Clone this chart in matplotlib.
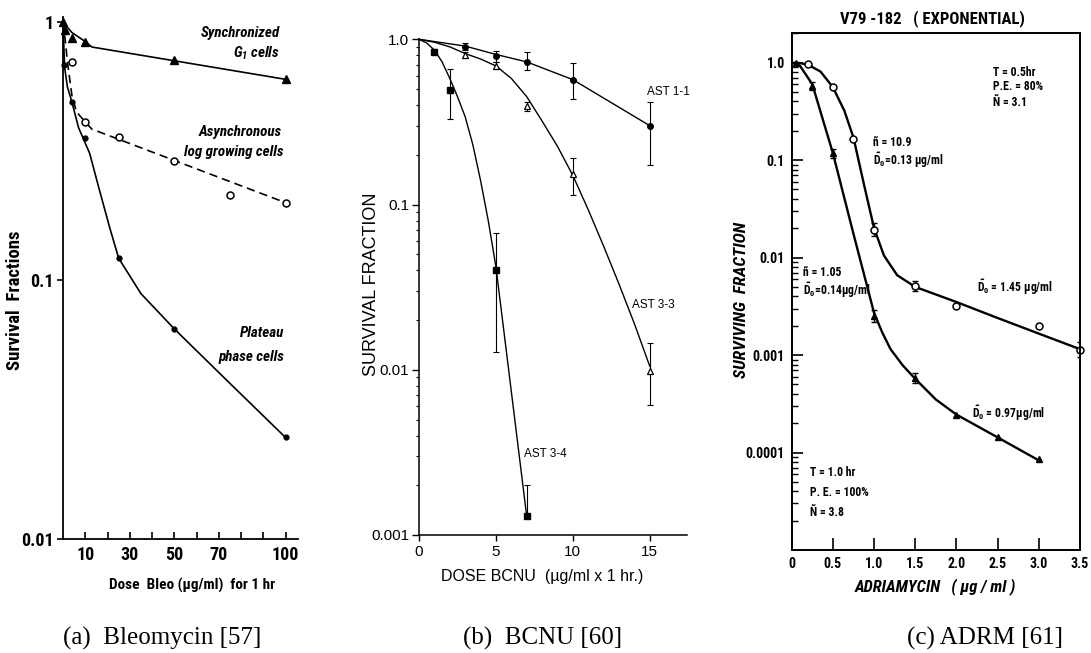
import numpy as np
import matplotlib
matplotlib.use('Agg')
import matplotlib.pyplot as plt
from matplotlib.ticker import FixedLocator, NullFormatter, LogLocator

NARROW = ['Roboto Condensed', 'Barlow Condensed', 'DejaVu Sans']
ARIAL = ['Liberation Sans', 'DejaVu Sans']
SERIF = ['Liberation Serif', 'DejaVu Serif']

W, H = 1091, 653

# ===== (a) Bleomycin =====
bleo_sync_x = [0, 1, 4, 10, 50, 100]
bleo_sync_y = [1.0, 0.93, 0.865, 0.84, 0.71, 0.60]
bleo_sync_fit_x = [0, 4, 10, 13, 100]
bleo_sync_fit_y = [1.0, 0.91, 0.84, 0.80, 0.60]

bleo_async_x = [4, 10, 25, 50, 75, 100]
bleo_async_y = [0.70, 0.41, 0.36, 0.29, 0.215, 0.20]
bleo_async_fit_x = [0, 1, 2, 4, 6, 10, 13, 100]
bleo_async_fit_y = [1.0, 0.85, 0.70, 0.52, 0.45, 0.41, 0.385, 0.20]

bleo_plat_x = [0.5, 4, 10, 25, 50, 100]
bleo_plat_y = [0.68, 0.49, 0.355, 0.122, 0.065, 0.0247]
bleo_plat_fit_x = [0, 0.7, 2, 4, 7, 12, 16, 21, 25, 35, 50, 75, 100]
bleo_plat_fit_y = [1.0, 0.67, 0.56, 0.49, 0.39, 0.31, 0.23, 0.16, 0.122, 0.089, 0.065, 0.040, 0.0247]

bleo_xticks = [10, 20, 30, 40, 50, 60, 70, 80, 90, 100]
bleo_xticklabels = ['10', '', '30', '', '50', '', '70', '', '', '100']

# ===== (b) BCNU =====
ast11_x = [3, 5, 7, 10, 15]
ast11_y = [0.90, 0.79, 0.725, 0.57, 0.30]
ast11_lo = [0.86, 0.73, 0.65, 0.435, 0.173]
ast11_hi = [0.95, 0.85, 0.84, 0.72, 0.42]
ast11_fit_x = [0, 3, 5, 7, 10, 15]
ast11_fit_y = [1.0, 0.91, 0.81, 0.73, 0.57, 0.30]

ast33_x = [3, 5, 7, 10, 15]
ast33_y = [0.80, 0.69, 0.395, 0.153, 0.0098]
ast33_lo = [0.77, 0.66, 0.37, 0.114, 0.0061]
ast33_hi = [0.84, 0.73, 0.42, 0.19, 0.0146]
ast33_fit_x = [0, 1, 2, 3, 4, 5, 6, 7, 8, 9, 10, 11, 12, 13, 14, 15]
ast33_fit_y = [1.0, 0.96, 0.90, 0.82, 0.76, 0.69, 0.58, 0.45, 0.32, 0.225,
               0.150, 0.093, 0.056, 0.033, 0.019, 0.0105]

ast34_x = [1, 2, 5, 7]
ast34_y = [0.84, 0.49, 0.040, 0.0013]
ast34_lo = [0.81, 0.33, 0.0128, 0.0013]
ast34_hi = [0.87, 0.66, 0.067, 0.0020]
ast34_fit_x = [0, 0.5, 1, 1.5, 2, 2.5, 3, 3.5, 4, 4.5, 5, 6, 7]
ast34_fit_y = [1.0, 0.95, 0.86, 0.73, 0.58, 0.45, 0.34, 0.23, 0.14, 0.08,
               0.042, 0.0074, 0.0013]

# ===== (c) Adriamycin =====
adrm_05_x = [0.2, 0.5, 0.75, 1.0, 1.5, 2.0, 3.0, 3.5]
adrm_05_y = [0.97, 0.56, 0.164, 0.0192, 0.0051, 0.0032, 0.0020, 0.00113]
adrm_05_lo = [0.97, 0.56, 0.164, 0.0165, 0.0045, 0.0032, 0.0020, 0.00095]
adrm_05_hi = [0.97, 0.56, 0.164, 0.0225, 0.0057, 0.0032, 0.0020, 0.00135]
adrm_05_fit_x = [0, 0.1, 0.2, 0.35, 0.5, 0.64, 0.75, 0.88, 1.0, 1.12, 1.28,
                 1.5, 2.0, 2.5, 3.0, 3.5]
adrm_05_fit_y = [1.0, 0.99, 0.95, 0.81, 0.56, 0.32, 0.17, 0.055, 0.020, 0.0105,
                 0.0066, 0.0050, 0.0035, 0.0024, 0.00166, 0.00115]

adrm_10_x = [0.05, 0.25, 0.5, 1.0, 1.5, 2.0, 2.5, 3.0]
adrm_10_y = [1.0, 0.58, 0.118, 0.0025, 0.00058, 0.000245, 0.000145, 0.000085]
adrm_10_lo = [1.0, 0.53, 0.105, 0.0022, 0.00052, 0.000245, 0.000145, 0.000085]
adrm_10_hi = [1.0, 0.64, 0.13, 0.0029, 0.00065, 0.000245, 0.000145, 0.000085]
adrm_10_fit_x = [0, 0.1, 0.25, 0.5, 0.75, 1.0, 1.1, 1.2, 1.35, 1.5, 1.75, 2.0, 2.5, 3.0]
adrm_10_fit_y = [1.0, 0.93, 0.60, 0.118, 0.0175, 0.0027, 0.0017, 0.00115, 0.00078,
                 0.00057, 0.00035, 0.000245, 0.000143, 0.000083]

adrm_xticks = [0, 0.5, 1.0, 1.5, 2.0, 2.5, 3.0, 3.5]
adrm_xticklabels = ['0', '0.5', '1.0', '1.5', '2.0', '2.5', '3.0', '3.5']
adrm_yticks = [1e-4, 1e-3, 1e-2, 1e-1, 1.0]
adrm_yticklabels = ['0.0001', '0.001', '0.01', '0.1', '1.0']

MU = '\u00b5'
D0 = r'$\tilde{\mathrm{D}}_0$'


def px_rect(x0, y0, x1, y1):
    return [x0 / W, 1 - y1 / H, (x1 - x0) / W, (y1 - y0) / H]


def ftext(fig, x, y, s, **kw):
    # place text in pixel coordinates measured from the top-left corner
    return fig.text(x / W, 1 - y / H, s, **kw)


def style_ticklabels(ax, family, size, weight='normal'):
    for lab in ax.get_xticklabels() + ax.get_yticklabels():
        lab.set_family(family)
        lab.set_fontsize(size)
        lab.set_fontweight(weight)


def errbars(ax, x, y, lo, hi, **kw):
    x, y, lo, hi = map(np.asarray, (x, y, lo, hi))
    keep = hi > lo
    yerr = np.vstack([y[keep] - lo[keep], hi[keep] - y[keep]])
    ax.errorbar(x[keep], y[keep], yerr=yerr, fmt='none', ecolor='black', **kw)


def plot_bleo(fig):
    ax = fig.add_axes(px_rect(63, 16.5, 298, 539))
    ax.set_yscale('log')
    ax.set_xlim(0, 105.6)
    ax.set_ylim(0.01, 1.05)
    for side in ['top', 'right']:
        ax.spines[side].set_visible(False)
    for side in ['left', 'bottom']:
        ax.spines[side].set_linewidth(1.3)

    ax.plot(bleo_sync_fit_x, bleo_sync_fit_y, '-', color='black', lw=1.2, clip_on=False)
    ax.plot(bleo_sync_x, bleo_sync_y, '^', color='black', ms=5.5, clip_on=False)
    ax.plot(bleo_async_fit_x, bleo_async_fit_y, '--', color='black', lw=1.2,
            dashes=(5, 3), clip_on=False)
    ax.plot(bleo_async_x, bleo_async_y, 'o', mfc='white', mec='black', mew=1.1, ms=5, clip_on=False)
    ax.plot(bleo_plat_fit_x, bleo_plat_fit_y, '-', color='black', lw=1.2, clip_on=False)
    ax.plot(bleo_plat_x, bleo_plat_y, 'o', color='black', ms=3.5, clip_on=False)

    ax.yaxis.set_major_locator(FixedLocator([0.01, 0.1, 1]))
    ax.yaxis.set_minor_locator(FixedLocator([]))
    ax.set_yticklabels(['0.01', '0.1', '1'])
    ax.set_xticks(bleo_xticks)
    ax.set_xticklabels(bleo_xticklabels)
    ax.tick_params(axis='y', direction='out', length=4, width=1.2, pad=3)
    ax.tick_params(axis='x', direction='in', length=5, width=1.2, pad=5)
    style_ticklabels(ax, NARROW, 13, 'bold')

    ftext(fig, 15, 300, 'Survival  Fractions', rotation=90, ha='center', va='center',
          family=NARROW, fontsize=13.5, fontweight='bold')
    ftext(fig, 192, 585, 'Dose  Bleo (' + MU + 'g/ml)  for 1 hr', ha='center', va='center',
          family=NARROW, fontsize=11, fontweight='bold')
    lab = dict(ha='right', va='center', family=NARROW, fontsize=10.8, fontweight='bold', style='italic')
    ftext(fig, 280, 33, 'Synchronized', **lab)
    ftext(fig, 280, 53, r'G$_\mathregular{1}$ cells', **lab)
    ftext(fig, 282, 132, 'Asynchronous', **lab)
    ftext(fig, 283, 152, 'log growing cells', **lab)
    ftext(fig, 284, 333, 'Plateau', **lab)
    ftext(fig, 284, 357, 'phase cells', **lab)
    return ax


def plot_bcnu(fig):
    ax = fig.add_axes(px_rect(419, 39.3, 686.7, 535))
    ax.set_yscale('log')
    ax.set_xlim(0, 17.4)
    ax.set_ylim(0.001, 1.0)
    for side in ['top', 'right']:
        ax.spines[side].set_visible(False)
    for side in ['left', 'bottom']:
        ax.spines[side].set_linewidth(1.1)

    lw = 1.0
    ax.plot(ast11_fit_x, ast11_fit_y, '-', color='black', lw=lw, clip_on=False)
    ax.plot(ast33_fit_x, ast33_fit_y, '-', color='black', lw=lw, clip_on=False)
    ax.plot(ast34_fit_x, ast34_fit_y, '-', color='black', lw=lw, clip_on=False)
    ekw = dict(elinewidth=0.8, capsize=2, capthick=0.8)
    errbars(ax, ast11_x, ast11_y, ast11_lo, ast11_hi, **ekw)
    errbars(ax, ast33_x, ast33_y, ast33_lo, ast33_hi, **ekw)
    errbars(ax, ast34_x, ast34_y, ast34_lo, ast34_hi, **ekw)
    ax.plot(ast11_x, ast11_y, 'o', color='black', ms=4)
    ax.plot(ast33_x, ast33_y, '^', mfc='white', mec='black', mew=0.9, ms=5)
    ax.plot(ast34_x, ast34_y, 's', color='black', ms=4)

    ax.set_xticks([0, 5, 10, 15])
    ax.set_xticklabels(['0', '5', '10', '15'])
    ax.yaxis.set_major_locator(FixedLocator([0.001, 0.01, 0.1, 1.0]))
    ax.yaxis.set_minor_locator(LogLocator(base=10, subs=np.arange(2, 10)))
    ax.yaxis.set_minor_formatter(NullFormatter())
    ax.set_yticklabels(['0.001', '0.01', '0.1', '1.0'])
    ax.tick_params(axis='y', which='major', direction='out', length=5, width=1, pad=2)
    ax.tick_params(axis='y', which='minor', direction='out', length=2.5, width=0.8)
    ax.tick_params(axis='x', direction='out', length=4, width=1, pad=3)
    style_ticklabels(ax, ARIAL, 11)

    ftext(fig, 372, 284, 'SURVIVAL FRACTION', rotation=90, ha='center', va='center',
          family=ARIAL, fontsize=13)
    ftext(fig, 542, 577, 'DOSE BCNU  (' + MU + 'g/ml x 1 hr.)', ha='center', va='center',
          family=ARIAL, fontsize=11.5)
    lab = dict(ha='left', va='center', family=ARIAL, fontsize=8.5)
    ftext(fig, 647, 92, 'AST 1-1', **lab)
    ftext(fig, 632, 305, 'AST 3-3', **lab)
    ftext(fig, 524, 454, 'AST 3-4', **lab)
    return ax


def plot_adrm(fig):
    ax = fig.add_axes(px_rect(791.7, 33.3, 1080, 550))
    ax.set_yscale('log')
    ax.set_xlim(0, 3.5)
    ax.set_ylim(1e-5, 2.0)
    for sp in ax.spines.values():
        sp.set_linewidth(1.4)

    ax.plot(adrm_05_fit_x, adrm_05_fit_y, '-', color='black', lw=1.7)
    ax.plot(adrm_10_fit_x, adrm_10_fit_y, '-', color='black', lw=1.7)
    ekw = dict(elinewidth=1.0, capsize=2, capthick=1.0)
    errbars(ax, adrm_05_x, adrm_05_y, adrm_05_lo, adrm_05_hi, **ekw)
    errbars(ax, adrm_10_x, adrm_10_y, adrm_10_lo, adrm_10_hi, **ekw)
    ax.plot(adrm_05_x, adrm_05_y, 'o', mfc='white', mec='black', mew=1.1, ms=5, clip_on=False)
    ax.plot(adrm_10_x, adrm_10_y, '^', color='black', ms=5, clip_on=False)

    ax.set_xticks(adrm_xticks)
    ax.set_xticklabels(adrm_xticklabels)
    ax.yaxis.set_major_locator(FixedLocator(adrm_yticks))
    ax.yaxis.set_minor_locator(LogLocator(base=10, subs=np.arange(2, 10)))
    ax.yaxis.set_minor_formatter(NullFormatter())
    ax.set_yticklabels(adrm_yticklabels)
    ax.tick_params(axis='y', which='major', direction='in', length=8, width=1.2, pad=5)
    ax.tick_params(axis='y', which='minor', direction='in', length=4, width=1.0)
    ax.tick_params(axis='x', direction='in', length=9, width=1.2, pad=5)
    style_ticklabels(ax, NARROW, 10, 'bold')

    ftext(fig, 932, 19, 'V79 -182   ( EXPONENTIAL)', ha='center', va='center',
          family=NARROW, fontsize=12, fontweight='bold')
    ftext(fig, 742, 300, 'SURVIVING  FRACTION', rotation=90, ha='center', va='center',
          family=NARROW, fontsize=12.5, fontweight='bold', style='italic')
    ftext(fig, 935, 587, 'ADRIAMYCIN   ( ' + MU + 'g / ml )', ha='center', va='center',
          family=NARROW, fontsize=12, fontweight='bold', style='italic')

    lab = dict(ha='left', va='center', family=NARROW, fontsize=8.5, fontweight='bold')
    ftext(fig, 993, 72, 'T = 0.5hr', **lab)
    ftext(fig, 993, 87, 'P.E. = 80%', **lab)
    ftext(fig, 993, 102, '\u00d1 = 3.1', **lab)
    ftext(fig, 873, 143, '\u00f1 = 10.9', **lab)
    ftext(fig, 873, 160, D0 + '=0.13 ' + MU + 'g/ml', **lab)
    ftext(fig, 803, 273, '\u00f1 = 1.05', **lab)
    ftext(fig, 803, 290, D0 + '=0.14' + MU + 'g/ml', **lab)
    ftext(fig, 977, 287, D0 + ' = 1.45 ' + MU + 'g/ml', **lab)
    ftext(fig, 972, 413, D0 + ' = 0.97' + MU + 'g/ml', **lab)
    ftext(fig, 810, 473, 'T = 1.0 hr', **lab)
    ftext(fig, 810, 493, 'P. E. = 100%', **lab)
    ftext(fig, 810, 512, '\u00d1 = 3.8', **lab)
    return ax


if __name__ == '__main__':
    plt.rcParams['mathtext.fontset'] = 'custom'
    plt.rcParams['mathtext.rm'] = 'Roboto Condensed:bold'
    plt.rcParams['mathtext.it'] = 'Roboto Condensed:bold:italic'

    fig = plt.figure(figsize=(W / 100, H / 100), dpi=100)
    plot_bleo(fig)
    plot_bcnu(fig)
    plot_adrm(fig)

    cap = dict(ha='left', va='baseline', family=SERIF, fontsize=18)
    ftext(fig, 63, 645, '(a)  Bleomycin [57]', **cap)
    ftext(fig, 463, 645, '(b)  BCNU [60]', **cap)
    ftext(fig, 907, 645, '(c) ADRM [61]', **cap)

    fig.savefig('out.png', dpi=100)
